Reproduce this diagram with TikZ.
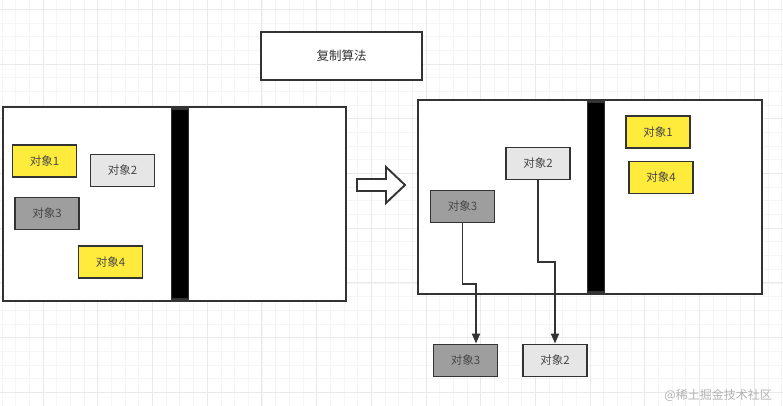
\documentclass[tikz,border=0pt]{standalone}
\usepackage{fontspec}
\newfontfamily\cjk{Noto Sans CJK SC}
\usetikzlibrary{arrows.meta}
\definecolor{ln}{HTML}{333333}
\definecolor{yel}{HTML}{FFEB3B}
\definecolor{lg}{HTML}{E6E6E6}
\definecolor{dg}{HTML}{9E9E9E}
\definecolor{gmin}{HTML}{F5F5F5}
\definecolor{gmaj}{HTML}{E9E9E9}
\tikzset{
  obj/.style={draw=ln,line width=1.9pt,minimum width=64pt,minimum height=32pt,inner sep=0pt,
    font=\cjk\fontsize{11.5}{12}\selectfont,text=ln!90},
  frame/.style={draw=ln,line width=1.9pt,fill=white,inner sep=0pt},
  bar/.style={draw=ln,line width=1.5pt,fill=black,inner sep=0pt,minimum width=17pt},
  conn/.style={draw=ln,line width=1.9pt,-{Triangle[length=10pt,width=8pt]}},
}
\begin{document}
\begin{tikzpicture}[x=1pt,y=-1pt]
\useasboundingbox (0,0) rectangle (783,406);
\fill[white] (0,0) rectangle (783,406);
% grid
\foreach \i in {0,...,57} {\draw[gmin,line width=0.6pt] ({2+\i*13.675},0) -- ({2+\i*13.675},406);}
\foreach \j in {0,...,29} {\draw[gmin,line width=0.6pt] (0,{9.3+\j*13.675}) -- (783,{9.3+\j*13.675});}
\foreach \i in {0,...,14} {\draw[gmaj,line width=0.7pt] ({43+\i*54.7-54.7},0) -- ({43+\i*54.7-54.7},406);}
\foreach \j in {0,...,7} {\draw[gmaj,line width=0.7pt] (0,{9.3+\j*54.7}) -- (783,{9.3+\j*54.7});}

% title
\node[frame,minimum width=161pt,minimum height=48pt,font=\cjk\fontsize{12.5}{14}\selectfont,text=ln] (title) at (341.5,56) {复制算法};

% left frame
\node[frame,minimum width=343pt,minimum height=194pt] (L) at (174.5,204) {};
\node[bar,minimum height=190pt] (Lbar) at (180,204) {};
\node[obj,fill=yel] (l1) at (44.5,161) {对象1};
\node[obj,fill=lg] (l2) at (122.5,170.5) {对象2};
\node[obj,fill=dg] (l3) at (47,213.5) {对象3};
\node[obj,fill=yel] (l4) at (110.5,262) {对象4};

% block arrow
\draw[ln,line width=1.9pt,fill=white,line join=miter] (357,179) -- (386,179) -- (386,167) -- (405,185) -- (386,203) -- (386,191) -- (357,191) -- cycle;

% right frame
\node[frame,minimum width=344pt,minimum height=194pt] (R) at (590,197) {};
\node[bar,minimum height=190pt] (Rbar) at (596,197) {};
\node[obj,fill=yel] (r1) at (658,132) {对象1};
\node[obj,fill=yel] (r4) at (661,177.5) {对象4};
\node[obj,fill=lg] (r2) at (538,163.5) {对象2};
\node[obj,fill=dg] (r3) at (462.5,206.5) {对象3};

% bottom copies
\node[obj,fill=dg] (b3) at (465.5,360.5) {对象3};
\node[obj,fill=lg] (b2) at (555,360.5) {对象2};

\coordinate (k3) at (476,284);
\coordinate (k2) at (555,262);
\draw[conn] (r3.south) |- (k3) -- (k3 |- b3.north);
\draw[conn] (r2.south) |- (k2) -- (b2.north);

% watermark
\node[anchor=east,inner sep=0pt,font=\cjk\fontsize{12}{12}\selectfont,text=gray!60] (wm) at (772,395) {@稀土掘金技术社区};
\end{tikzpicture}
\end{document}
